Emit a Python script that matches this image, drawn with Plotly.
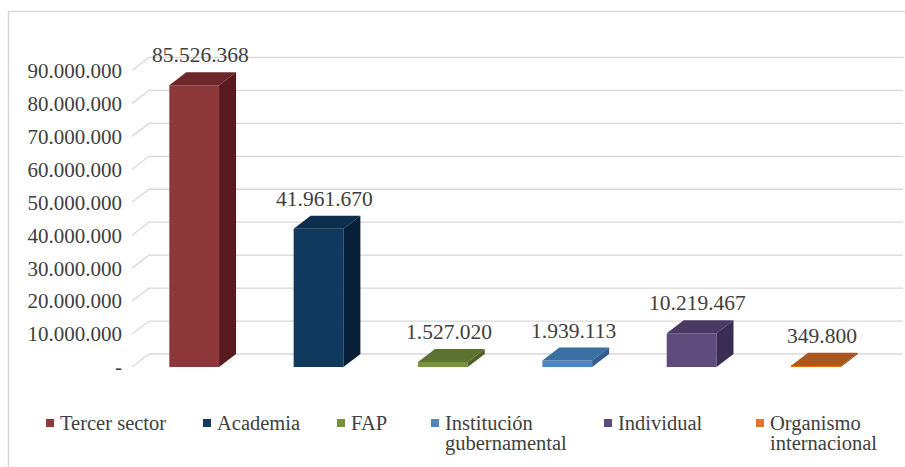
import plotly.graph_objects as go

# ---------------- data ----------------
categories = ["Tercer sector", "Academia", "FAP", "Institución gubernamental",
              "Individual", "Organismo internacional"]
values = [85526368, 41961670, 1527020, 1939113, 10219467, 349800]
legend_lines = [["Tercer sector"], ["Academia"], ["FAP"],
                ["Institución", "gubernamental"], ["Individual"],
                ["Organismo", "internacional"]]
tick_values = [0, 10000000, 20000000, 30000000, 40000000, 50000000,
               60000000, 70000000, 80000000, 90000000]
tick_labels = ["-", "10.000.000", "20.000.000", "30.000.000", "40.000.000",
               "50.000.000", "60.000.000", "70.000.000", "80.000.000", "90.000.000"]

# ---------------- styles ----------------
front_colors = ["#8C383B", "#0F3A5E", "#77933C", "#4A86C5", "#604B7D", "#E46C0A"]
top_colors = ["#6B2729", "#0C2E4C", "#5B7230", "#3A6FA4", "#4A3A63", "#A9561F"]
side_colors = ["#581A1F", "#071F37", "#4E6228", "#2F5E8F", "#3A2D54", "#8A4510"]
legend_colors = ["#8E3A3C", "#12395E", "#77933C", "#4F86C6", "#604A7B", "#E8742A"]
TEXT = "#404040"
GRID = "#D9D9D9"
FONT = "Liberation Serif, Times New Roman, DejaVu Serif, serif"

W, H = 905, 467
ML, MR, MT, MB = 132, 2, 54, 100
XR = (-0.5, 5.7)
YR = (0, 95e6)
plot_w = W - ML - MR
plot_h = H - MT - MB
px_per_cat = plot_w / (XR[1] - XR[0])
px_per_val = plot_h / (YR[1] - YR[0])
dx = 17 / px_per_cat
dy = 13 / px_per_val
BAR_W = 0.4


def px2x(px):
    return (px - ML) / plot_w


def py2y(py):
    return (H - MB - py) / plot_h


fig = go.Figure()
shapes = []

# back-wall gridlines with left diagonal (drawn below the bars)
for t in tick_values:
    shapes.append(dict(
        type="path", xref="x", yref="y", layer="below",
        path=f"M {XR[0]},{t} L {XR[0] + dx},{t + dy} L {XR[1]},{t + dy}",
        line=dict(color=GRID, width=1.3)))

# top and side faces
for i, v in enumerate(values):
    l, r = i - BAR_W / 2, i + BAR_W / 2
    fig.add_trace(go.Scatter(
        x=[l, r, r + dx, l + dx, l], y=[v, v, v + dy, v + dy, v],
        mode="lines", fill="toself", fillcolor=top_colors[i],
        line=dict(width=0), hoverinfo="skip", showlegend=False))
    fig.add_trace(go.Scatter(
        x=[r, r + dx, r + dx, r, r], y=[0, dy, v + dy, v, 0],
        mode="lines", fill="toself", fillcolor=side_colors[i],
        line=dict(width=0), hoverinfo="skip", showlegend=False))

# front faces
fig.add_trace(go.Bar(x=list(range(len(values))), y=values, width=BAR_W,
                     marker=dict(color=front_colors, line=dict(width=0)),
                     showlegend=False, hoverinfo="skip"))

annotations = []
# data labels
for i, v in enumerate(values):
    annotations.append(dict(
        x=i, y=v, xref="x", yref="y", text=f"{v:,}".replace(",", "."),
        showarrow=False, xanchor="center", yanchor="middle",
        xshift=6, yshift=30, font=dict(family=FONT, size=21.5, color=TEXT)))

# custom legend
legend_square_px = [46, 203, 337, 431, 604, 756]
for i, lines in enumerate(legend_lines):
    sx = legend_square_px[i]
    shapes.append(dict(type="rect", xref="paper", yref="paper",
                       xsizemode="pixel", ysizemode="pixel",
                       xanchor=px2x(sx), yanchor=py2y(423),
                       x0=0, x1=8, y0=-4, y1=4,
                       fillcolor=legend_colors[i], line=dict(width=0)))
    for k, line in enumerate(lines):
        annotations.append(dict(
            x=px2x(sx + 12), y=py2y(423 + 20 * k), xref="paper", yref="paper",
            text=line, showarrow=False, xanchor="left", yanchor="middle",
            font=dict(family=FONT, size=20.5, color=TEXT)))

# chart border
shapes.append(dict(type="rect", xref="paper", yref="paper",
                   x0=px2x(8.5), x1=px2x(W + 10), y0=py2y(H + 10), y1=py2y(11.5),
                   line=dict(color=GRID, width=1.5), fillcolor="rgba(0,0,0,0)",
                   layer="below"))

fig.update_layout(
    width=W, height=H,
    margin=dict(l=ML, r=MR, t=MT, b=MB, pad=0),
    paper_bgcolor="white", plot_bgcolor="rgba(0,0,0,0)",
    font=dict(family=FONT, size=20, color=TEXT),
    showlegend=False, hovermode=False,
    xaxis=dict(range=list(XR), visible=False, fixedrange=True),
    yaxis=dict(range=list(YR), tickvals=tick_values, ticktext=tick_labels,
               showgrid=False, zeroline=False, showline=False, ticks="",
               ticklabelstandoff=9,
               tickfont=dict(family=FONT, size=21, color=TEXT), fixedrange=True),
    annotations=annotations, shapes=shapes,
)

fig.write_html("out.html", config={"displayModeBar": False},
               post_script="document.body.style.margin='0px';")
